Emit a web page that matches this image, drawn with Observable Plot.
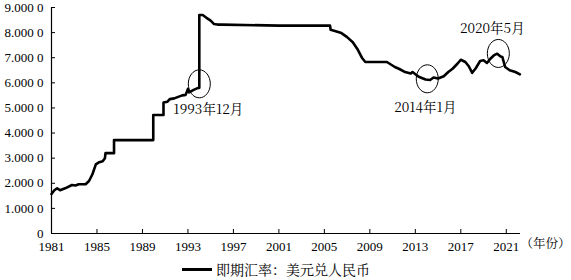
<!DOCTYPE html>
<html><head><meta charset="utf-8">
<script src="https://cdn.jsdelivr.net/npm/d3@7"></script>
<script src="https://cdn.jsdelivr.net/npm/@observablehq/plot@0.6"></script>
<style>
body{margin:0;background:#fff;}
#chart{width:571px;height:280px;overflow:hidden;font-family:"Liberation Serif",serif;}
#chart svg{display:block;font-family:"Liberation Serif",serif !important;}
.legend{height:22px;display:flex;align-items:center;padding-left:182px;font-size:14px;color:#000;font-family:"Noto Serif CJK SC","Liberation Serif",serif;}
.legend .sw{display:inline-block;width:30px;height:3px;background:#000;margin-right:4px;}
</style></head><body><div id="chart"></div>
<script>
// Spot exchange rate USD/CNY (yuan per dollar)
const years = [1981.0,1981.25,1981.5,1981.75,1982.2,1982.8,1983.1,1983.4,1984.0,1984.3,1984.6,1984.9,1985.2,1985.5,1985.7,1985.75,1986.5,1986.5,1989.95,1989.95,1990.85,1990.85,1991.2,1991.4,1991.8,1992.2,1992.5,1992.8,1993.0,1993.1,1993.5,1993.9,1994.0,1994.0,1994.3,1994.6,1995.0,1995.3,1995.6,1996.0,2001.0,2005.5,2005.55,2006.0,2006.5,2007.0,2007.5,2007.9,2008.3,2008.6,2010.5,2011.2,2011.6,2012.1,2012.6,2012.75,2013.3,2013.9,2014.3,2014.6,2015.0,2015.5,2015.9,2016.3,2016.7,2017.0,2017.4,2017.7,2018.0,2018.3,2018.7,2019.0,2019.3,2019.6,2019.9,2020.2,2020.5,2020.65,2020.9,2021.3,2021.8,2022.2];
const rates = [1.57,1.72,1.80,1.72,1.80,1.93,1.91,1.96,1.96,2.09,2.36,2.75,2.84,2.88,3.00,3.20,3.20,3.72,3.72,4.72,4.72,5.22,5.25,5.35,5.38,5.45,5.50,5.52,5.76,5.62,5.72,5.80,5.80,8.70,8.70,8.60,8.48,8.34,8.32,8.32,8.28,8.28,8.11,8.05,7.98,7.82,7.62,7.35,7.00,6.83,6.83,6.63,6.55,6.43,6.37,6.43,6.24,6.13,6.11,6.21,6.17,6.26,6.43,6.57,6.76,6.92,6.83,6.66,6.40,6.57,6.87,6.90,6.79,6.96,7.09,7.16,7.05,7.03,6.63,6.50,6.43,6.34];
const xTicks = [1981,1985,1989,1993,1997,2001,2005,2009,2013,2017,2021];
const yTicks = [0,1,2,3,4,5,6,7,8,9];
const noteLabels = ["1993年12月","2014年1月","2020年5月"];
const noteYears = [1994.0,2014.05,2020.3];
const noteRates = [5.96,6.16,7.17];
const legendLabel = "即期汇率：美元兑人民币";
const unitLabel = "（年份）";

const series = years.map((t,i)=>({t, v: rates[i]}));
const notes = noteLabels.map((s,i)=>({label:s, t:noteYears[i], v:noteRates[i]}));
const ellipse = (a,b)=>({draw(ctx){const k=0.5523;ctx.moveTo(a,0);ctx.bezierCurveTo(a,k*b,k*a,b,0,b);ctx.bezierCurveTo(-k*a,b,-a,k*b,-a,0);ctx.bezierCurveTo(-a,-k*b,-k*a,-b,0,-b);ctx.bezierCurveTo(k*a,-b,a,-k*b,a,0);ctx.closePath();}});
const yFmt = d => d===0 ? "0" : d.toFixed(4).replace(/(\d)$/," $1");
const numFont = '"Liberation Serif",serif';
const cjkFont = '"Noto Serif CJK SC","Liberation Serif",serif';

const plot = Plot.plot({
  width:571, height:258,
  marginLeft:51, marginRight:51, marginTop:7, marginBottom:25,
  style:{fontFamily:numFont, fontSize:"13px", color:"#000", background:"#fff"},
  x:{domain:[1981,2022.25]},
  y:{domain:[0,9]},
  marks:[
    Plot.axisY(yTicks,{tickSize:0, tickPadding:8, tickFormat:yFmt, label:null, fontSize:13, fontFamily:numFont}),
    Plot.axisY(yTicks,{tickSize:4, dx:4, text:null, label:null}),
    Plot.axisX(xTicks,{tickSize:0, tickPadding:8, tickFormat:"d", label:null, fontSize:13, fontFamily:numFont}),
    Plot.axisX(xTicks,{tickSize:4, dy:-4, text:null, label:null}),
    Plot.ruleX([1981],{stroke:"#000", strokeWidth:1.2}),
    Plot.ruleY([0],{stroke:"#000", strokeWidth:1.2}),
    Plot.line(series,{x:"t", y:"v", stroke:"#000", strokeWidth:2.6, strokeLinejoin:"round"}),
    Plot.dot(notes,{x:"t", y:"v", symbol:ellipse(11,14), r:5, stroke:"#000", fill:"none", strokeWidth:1}),
    Plot.text(notes.slice(0,1),{x:"t", y:"v", text:"label", dx:9, dy:26, fontSize:13.5, fontFamily:cjkFont}),
    Plot.text(notes.slice(1,2),{x:"t", y:"v", text:"label", dx:-2, dy:29, fontSize:13.5, fontFamily:cjkFont}),
    Plot.text(notes.slice(2,3),{x:"t", y:"v", text:"label", dx:-6, dy:-25, fontSize:13.5, fontFamily:cjkFont}),
    Plot.text([unitLabel],{frameAnchor:"bottom-right", textAnchor:"start", dx:0, dy:14, fontSize:12.5, fontFamily:cjkFont})
  ]
});
const chart = document.getElementById("chart");
chart.appendChild(plot);
const lg = document.createElement("div");
lg.className = "legend";
lg.innerHTML = '<span class="sw"></span><span></span>';
lg.lastChild.textContent = legendLabel;
chart.appendChild(lg);
</script></body></html>
